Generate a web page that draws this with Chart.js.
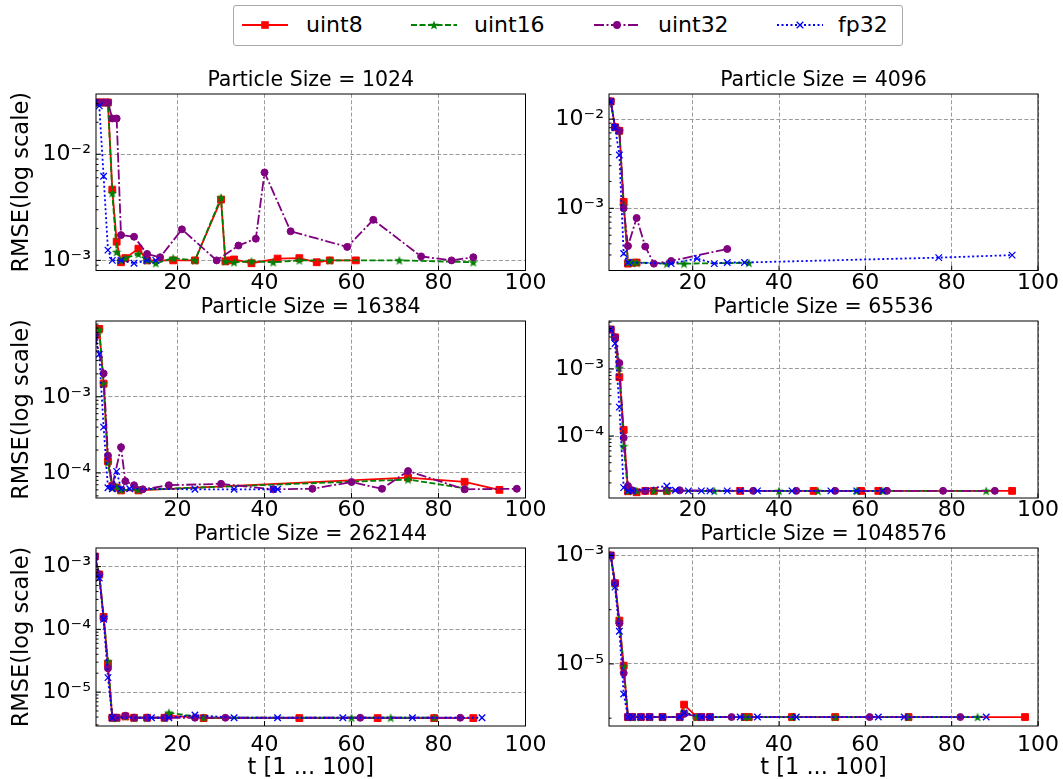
<!DOCTYPE html>
<html><head><meta charset="utf-8">
<script src="https://cdn.jsdelivr.net/npm/chart.js@4.4.1/dist/chart.umd.min.js"></script>
<style>
html,body{margin:0;padding:0;width:1063px;height:779px;overflow:hidden;background:#fff;font-family:"DejaVu Sans",sans-serif;}
canvas.panel{position:absolute;}
#legend{position:absolute;left:233px;top:5px;width:670px;height:41px;box-sizing:border-box;border:1px solid #a8a8a8;border-radius:3px;background:#fff;}
.lg{position:absolute;top:0;height:39px;}
.lg svg{position:absolute;top:9px;}
.lg span{position:absolute;top:6px;font-size:22px;line-height:26px;color:#000;white-space:nowrap;}
</style></head>
<body>
<div id="legend"></div>
<canvas id="c0" class="panel"></canvas><canvas id="c1" class="panel"></canvas>
<canvas id="c2" class="panel"></canvas><canvas id="c3" class="panel"></canvas>
<canvas id="c4" class="panel"></canvas><canvas id="c5" class="panel"></canvas>
<script>
// ---------------- data ----------------
const seriesNames = ['uint8', 'uint16', 'uint32', 'fp32'];
const particleSizes = [1024, 4096, 16384, 65536, 262144, 1048576];
const xTickValues = [20, 40, 60, 80, 100];

// Particle Size = 1024
const t1024_uint8  = [1,2,3,4,5,6,7,8,11,13,19,24,30,31,32,33,37,43,48,52,55,61];
const r1024_uint8  = [3.07e-2,3.07e-2,3.07e-2,3.07e-2,4.64e-3,1.50e-3,9.6e-4,1.05e-3,1.29e-3,1.0e-3,1.0e-3,1.0e-3,3.74e-3,9.8e-4,1.0e-3,1.02e-3,9.4e-4,1.04e-3,1.05e-3,9.6e-4,1.0e-3,1.0e-3];
const t1024_uint16 = [1,2,3,4,5,6,7,8,11,13,15,19,24,30,31,33,37,42,48,55,71,88];
const r1024_uint16 = [3.07e-2,3.07e-2,3.07e-2,3.07e-2,4.3e-3,1.2e-3,1.0e-3,1.05e-3,1.15e-3,1.0e-3,9.4e-4,1.05e-3,1.0e-3,3.9e-3,9.8e-4,9.6e-4,9.8e-4,9.6e-4,1.0e-3,1.0e-3,1.0e-3,9.6e-4];
const t1024_uint32 = [1,2,3,4,5,6,7,10,13,16,21,29,34,38,40,46,59,65,76,83,88];
const r1024_uint32 = [3.07e-2,3.07e-2,3.07e-2,3.07e-2,2.17e-2,2.17e-2,1.73e-3,1.67e-3,1.15e-3,1.07e-3,1.96e-3,1.0e-3,1.38e-3,1.6e-3,6.73e-3,1.88e-3,1.34e-3,2.41e-3,1.09e-3,1.0e-3,1.07e-3];
const t1024_fp32   = [1,2,3,4,5,7,10,13,15];
const r1024_fp32   = [3.07e-2,2.85e-2,6.2e-3,1.25e-3,1.0e-3,1.0e-3,9.4e-4,1.0e-3,1.0e-3];

// Particle Size = 4096
const t4096_uint8  = [1,2,3,4,5,6,7];
const r4096_uint8  = [1.58e-2,8.1e-3,7.4e-3,1.18e-3,2.4e-4,2.45e-4,2.47e-4];
const t4096_uint16 = [1,2,3,4,5,6,7,14,18,33];
const r4096_uint16 = [1.58e-2,8.1e-3,7.4e-3,1.06e-3,2.47e-4,2.47e-4,2.47e-4,2.4e-4,2.4e-4,2.45e-4];
const t4096_uint32 = [1,2,3,4,5,7,9,11,15,28];
const r4096_uint32 = [1.58e-2,8.1e-3,7.4e-3,1.0e-3,3.78e-4,7.8e-4,3.73e-4,2.4e-4,2.57e-4,3.5e-4];
const t4096_fp32   = [1,2,3,4,5,15,21,25,28,32,77,94];
const r4096_fp32   = [1.58e-2,8.1e-3,3.95e-3,3.12e-4,2.47e-4,2.4e-4,2.74e-4,2.4e-4,2.47e-4,2.47e-4,2.8e-4,2.99e-4];

// Particle Size = 16384
const t16384_uint8  = [1,2,3,4,5,6,7,11,73,86,94];
const r16384_uint8  = [6.4e-3,7.8e-3,1.49e-3,1.42e-4,6.7e-5,6.4e-5,5.9e-5,5.9e-5,8.7e-5,7.66e-5,6.0e-5];
const t16384_uint16 = [1,2,3,4,5,6,7,11,73,86];
const r16384_uint16 = [6.4e-3,7.6e-3,1.49e-3,1.37e-4,6.4e-5,6.6e-5,6.0e-5,6.0e-5,8.2e-5,6.3e-5];
const t16384_uint32 = [1,3,4,5,7,8,10,12,18,30,42,51,60,67,73,86,98];
const r16384_uint32 = [6.5e-3,2.03e-3,1.69e-4,6.8e-5,2.18e-4,7.8e-5,6.9e-5,6.1e-5,6.9e-5,7.2e-5,6.1e-5,6.2e-5,7.6e-5,6.2e-5,1.06e-4,6.1e-5,6.2e-5];
const t16384_fp32   = [1,2,3,4,5,6,7,9,24,33,42,43];
const r16384_fp32   = [6.05e-3,3.63e-3,4.0e-4,6.4e-5,6.2e-5,1.05e-4,6.2e-5,6.2e-5,6.1e-5,6.1e-5,6.1e-5,6.1e-5];

// Particle Size = 65536
const t65536_uint8  = [1,2,3,4,5,7,9,11,14,31,48,59,63,94];
const r65536_uint8  = [3.88e-3,2.97e-3,7.55e-4,1.23e-4,1.5e-5,1.45e-5,1.52e-5,1.52e-5,1.52e-5,1.52e-5,1.52e-5,1.52e-5,1.52e-5,1.52e-5];
const t65536_uint16 = [1,2,3,4,5,7,11,14,25,40,49,58,64,88];
const r65536_uint16 = [3.88e-3,2.97e-3,1.04e-3,7.05e-5,1.52e-5,1.52e-5,1.52e-5,1.52e-5,1.52e-5,1.52e-5,1.52e-5,1.52e-5,1.52e-5,1.52e-5];
const t65536_uint32 = [1,2,3,4,5,6,9,17,34,44,53,65,78,90];
const r65536_uint32 = [3.88e-3,2.97e-3,1.23e-3,9.4e-5,1.8e-5,1.55e-5,1.52e-5,1.55e-5,1.52e-5,1.52e-5,1.52e-5,1.52e-5,1.52e-5,1.52e-5];
const t65536_fp32   = [1,2,3,4,5,6,14,16,19,22,24,28,31,35,43,52,58,64];
const r65536_fp32   = [3.88e-3,2.4e-3,2.7e-4,1.7e-5,1.52e-5,1.52e-5,1.8e-5,1.55e-5,1.52e-5,1.52e-5,1.52e-5,1.52e-5,1.52e-5,1.52e-5,1.52e-5,1.52e-5,1.52e-5,1.52e-5];

// Particle Size = 262144
const t262144_uint8  = [1,2,3,4,5,6,8,10,13,17,18,26,48,66,79,88];
const r262144_uint8  = [1.45e-3,7.5e-4,1.58e-4,2.84e-5,3.9e-6,3.9e-6,4.1e-6,3.9e-6,3.9e-6,3.9e-6,4.2e-6,3.85e-6,3.85e-6,3.85e-6,3.85e-6,3.85e-6];
const t262144_uint16 = [1,2,3,4,5,6,8,10,13,17,18,26,60,69,79];
const r262144_uint16 = [1.45e-3,7.5e-4,1.58e-4,3.1e-5,3.9e-6,3.9e-6,4.1e-6,3.9e-6,3.9e-6,3.9e-6,4.7e-6,3.9e-6,3.9e-6,3.9e-6,3.9e-6];
const t262144_uint32 = [1,2,3,4,5,6,8,10,13,17,24,31,62,85];
const r262144_uint32 = [1.45e-3,7.5e-4,1.5e-4,2.39e-5,3.9e-6,3.9e-6,4.2e-6,3.9e-6,3.9e-6,3.9e-6,3.9e-6,3.9e-6,3.9e-6,3.9e-6];
const t262144_fp32   = [1,2,3,4,5,14,18,24,33,43,58,74,90];
const r262144_fp32   = [1.45e-3,6.6e-4,1.45e-4,1.7e-5,3.9e-6,3.9e-6,3.9e-6,4.3e-6,3.9e-6,3.9e-6,3.9e-6,3.9e-6,3.9e-6];

// Particle Size = 1048576
const t1048576_uint8  = [1,2,3,4,5,6,8,10,13,17,18,21,22,24,32,33,43,53,70,97];
const r1048576_uint8  = [1.0e-3,3.08e-4,6.3e-5,9.3e-6,1.05e-6,1.05e-6,1.05e-6,1.05e-6,1.05e-6,1.05e-6,1.78e-6,1.05e-6,1.05e-6,1.05e-6,1.05e-6,1.05e-6,1.05e-6,1.05e-6,1.05e-6,1.05e-6];
const t1048576_uint16 = [1,2,3,4,5,6,8,10,13,17,18,21,22,24,32,33,43,53,70,86];
const r1048576_uint16 = [1.0e-3,3.0e-4,6.0e-5,9.0e-6,1.05e-6,1.05e-6,1.05e-6,1.05e-6,1.05e-6,1.05e-6,1.3e-6,1.05e-6,1.05e-6,1.05e-6,1.05e-6,1.05e-6,1.05e-6,1.05e-6,1.05e-6,1.05e-6];
const t1048576_uint32 = [1,2,3,4,5,6,8,10,13,17,18,22,24,29,61,82];
const r1048576_uint32 = [1.0e-3,3.08e-4,5.6e-5,6.8e-6,1.05e-6,1.05e-6,1.05e-6,1.05e-6,1.05e-6,1.05e-6,1.2e-6,1.05e-6,1.05e-6,1.05e-6,1.05e-6,1.05e-6];
const t1048576_fp32   = [1,2,3,4,5,6,8,10,13,17,18,22,24,31,35,44,63,69,88];
const r1048576_fp32   = [1.0e-3,2.6e-4,4.0e-5,2.8e-6,1.05e-6,1.05e-6,1.05e-6,1.05e-6,1.05e-6,1.05e-6,1.25e-6,1.05e-6,1.05e-6,1.05e-6,1.05e-6,1.05e-6,1.05e-6,1.05e-6,1.05e-6];

// axis limits
const yMinValues = [8.03e-4, 2.01e-4, 4.69e-5, 1.19e-5, 2.88e-6, 7.18e-7];
const yMaxValues = [3.69e-2, 1.91e-2, 9.9e-3, 5.2e-3, 1.98e-3, 1.37e-3];
const yDecadeStride = [1, 1, 1, 1, 1, 2];
const xMinValues = [1.25, 0.6, 1.25, 0.6, 1.25, 0.6];
const xMaxValue = 100;

const panelSeries = [
  [[t1024_uint8, r1024_uint8], [t1024_uint16, r1024_uint16], [t1024_uint32, r1024_uint32], [t1024_fp32, r1024_fp32]],
  [[t4096_uint8, r4096_uint8], [t4096_uint16, r4096_uint16], [t4096_uint32, r4096_uint32], [t4096_fp32, r4096_fp32]],
  [[t16384_uint8, r16384_uint8], [t16384_uint16, r16384_uint16], [t16384_uint32, r16384_uint32], [t16384_fp32, r16384_fp32]],
  [[t65536_uint8, r65536_uint8], [t65536_uint16, r65536_uint16], [t65536_uint32, r65536_uint32], [t65536_fp32, r65536_fp32]],
  [[t262144_uint8, r262144_uint8], [t262144_uint16, r262144_uint16], [t262144_uint32, r262144_uint32], [t262144_fp32, r262144_fp32]],
  [[t1048576_uint8, r1048576_uint8], [t1048576_uint16, r1048576_uint16], [t1048576_uint32, r1048576_uint32], [t1048576_fp32, r1048576_fp32]]
];

// ---------------- styles ----------------
Chart.defaults.font.family = "'DejaVu Sans', sans-serif";
Chart.defaults.color = '#000';

function makeStar(color, size) {
  const c = document.createElement('canvas');
  c.width = size; c.height = size;
  const g = c.getContext('2d');
  g.fillStyle = color; g.beginPath();
  const cx = size / 2, cy = size / 2 + 0.4, R = size / 2, r = R * 0.42;
  for (let i = 0; i < 10; i++) {
    const a = -Math.PI / 2 + i * Math.PI / 5;
    const rr = i % 2 ? r : R;
    g.lineTo(cx + rr * Math.cos(a), cy + rr * Math.sin(a));
  }
  g.closePath(); g.fill();
  return c;
}
const starImg = makeStar('#008000', 10);

const seriesStyle = [
  {color: '#ff0000', dash: [], point: 'rect', radius: 4.8, bw: 1, order: 3},
  {color: '#008000', dash: [6, 2.5], point: starImg, radius: 5, bw: 0, order: 2},
  {color: '#800080', dash: [10, 2.5, 2, 2.5], point: 'circle', radius: 3.5, bw: 1, order: 1},
  {color: '#0000ff', dash: [2, 2.5], point: 'crossRot', radius: 4.6, bw: 1.3, order: 0}
];

const SUP = {'-': '\u207B', '0': '\u2070', '1': '\u00B9', '2': '\u00B2', '3': '\u00B3', '4': '\u2074', '5': '\u2075', '6': '\u2076', '7': '\u2077', '8': '\u2078', '9': '\u2079'};
function decadeLabel(v) {
  const e = Math.round(Math.log10(v));
  return '10' + String(e).split('').map(ch => SUP[ch]).join('');
}

// geometry of each panel canvas
const colLeft = [0, 513], colWidth = [556, 550], colPadRight = [30.5, 25];
const rowTop = [68, 295, 522], rowHeight = [233, 233, 257], rowXAxisH = [30.5, 30, 53];
const rowTickPad = [-0.5, -0.5, 6.5];
const Y_AXIS_W = 96;

const framePlugin = {
  id: 'frame',
  afterDatasetsDraw(chart, args, opts) {
    const {ctx, chartArea: a, scales: {x, y}} = chart;
    ctx.save();
    ctx.strokeStyle = '#000';
    ctx.lineWidth = 1;
    ctx.beginPath();
    const lo = Math.floor(Math.log10(y.min)), hi = Math.ceil(Math.log10(y.max));
    for (let d = lo; d <= hi; d++) {
      const subs = opts.stride === 1 ? [1,2,3,4,5,6,7,8,9] : [1];
      subs.forEach(m => {
        const v = m * Math.pow(10, d);
        if (v < y.min || v > y.max) return;
        const py = y.getPixelForValue(v);
        const major = (m === 1) && ((d - opts.base) % opts.stride === 0);
        ctx.moveTo(a.left, py);
        ctx.lineTo(a.left + (major ? 5 : 2.5), py);
      });
    }
    xTickValues.forEach(v => {
      const px = x.getPixelForValue(v);
      ctx.moveTo(px, a.bottom);
      ctx.lineTo(px, a.bottom - 5);
    });
    ctx.stroke();
    ctx.strokeRect(a.left, a.top, a.right - a.left, a.bottom - a.top);
    ctx.restore();
  }
};

function buildPanel(i) {
  const col = i % 2, row = Math.floor(i / 2);
  const cv = document.getElementById('c' + i);
  cv.width = colWidth[col]; cv.height = rowHeight[row];
  cv.style.left = colLeft[col] + 'px'; cv.style.top = rowTop[row] + 'px';
  cv.style.width = colWidth[col] + 'px'; cv.style.height = rowHeight[row] + 'px';

  const datasets = panelSeries[i].map(([ts, rs], k) => {
    const s = seriesStyle[k];
    return {
      label: seriesNames[k],
      data: ts.map((t, j) => ({x: t, y: rs[j]})),
      borderColor: s.color, backgroundColor: s.color,
      borderWidth: 1.8, borderDash: s.dash, tension: 0, fill: false,
      pointStyle: s.point, pointRadius: s.radius, pointBorderWidth: s.bw,
      pointBackgroundColor: s.color, pointBorderColor: s.color,
      pointHoverRadius: s.radius, order: s.order
    };
  });

  const stride = yDecadeStride[i];
  const yMin = yMinValues[i], yMax = yMaxValues[i];
  const topDec = Math.floor(Math.log10(yMax));
  const xAxisH = rowXAxisH[row];

  new Chart(cv, {
    type: 'line',
    data: {datasets},
    plugins: [framePlugin],
    options: {
      responsive: false, animation: false, devicePixelRatio: 1,
      layout: {padding: {left: 0, top: 0, right: colPadRight[col], bottom: 0}},
      plugins: {
        legend: {display: false}, tooltip: {enabled: false},
        title: {display: true, fullSize: false, text: 'Particle Size = ' + particleSizes[i],
                font: {size: 20.5, weight: 'normal', lineHeight: 1.2}, padding: {top: 0, bottom: 1.4}, color: '#000'},
        frame: {stride: stride, base: topDec}
      },
      scales: {
        x: {
          type: 'linear', min: xMinValues[i], max: xMaxValue,
          afterBuildTicks: s => { s.ticks = xTickValues.map(v => ({value: v})); },
          afterFit: s => { s.height = xAxisH; s.paddingLeft = 0; s.paddingRight = 0; },
          ticks: {font: {size: 22}, padding: rowTickPad[row], maxRotation: 0, autoSkip: false, color: '#000',
                  callback: v => String(v)},
          grid: {color: '#9a9a9a', lineWidth: 1, drawTicks: false},
          border: {display: false, dash: [4, 2.2]},
          title: {display: row === 2, text: 't [1 ... 100]', font: {size: 22.5, lineHeight: 1.0},
                  padding: {top: 0, bottom: 0}, color: '#000'}
        },
        y: {
          type: 'logarithmic', min: yMin, max: yMax,
          afterBuildTicks: s => {
            const t = [];
            for (let d = topDec; Math.pow(10, d) >= yMin; d -= stride) t.unshift({value: Math.pow(10, d)});
            s.ticks = t;
          },
          afterFit: s => { s.width = Y_AXIS_W; s.paddingTop = 0; s.paddingBottom = 0; },
          ticks: {font: {size: 22}, padding: 5, autoSkip: false, color: '#000', callback: v => decadeLabel(v)},
          grid: {color: '#9a9a9a', lineWidth: 1, drawTicks: false},
          border: {display: false, dash: [4, 2.2]},
          title: {display: col === 0, text: 'RMSE(log scale)', font: {size: 22.5, lineHeight: 1.2},
                  padding: {top: 9, bottom: 0}, color: '#000'}
        }
      }
    }
  });
}
for (let i = 0; i < 6; i++) buildPanel(i);

// ---------------- legend (HTML) ----------------
const legendLineX = [8, 177, 360, 543];   // relative to legend box
const legendTextX = [72, 240, 424, 604];
const legendEl = document.getElementById('legend');
seriesNames.forEach((name, k) => {
  const s = seriesStyle[k];
  const item = document.createElement('div');
  item.className = 'lg';
  const w = 46;
  let marker = '';
  const cx = w / 2, cy = 10;
  if (k === 0) marker = `<rect x="${cx-3.8}" y="${cy-3.8}" width="7.6" height="7.6" fill="${s.color}"/>`;
  if (k === 1) {
    let pts = [];
    for (let j = 0; j < 10; j++) { const a = -Math.PI/2 + j*Math.PI/5; const rr = j % 2 ? 2.1 : 5; pts.push((cx + rr*Math.cos(a)).toFixed(2) + ',' + (cy + 0.4 + rr*Math.sin(a)).toFixed(2)); }
    marker = `<polygon points="${pts.join(' ')}" fill="${s.color}"/>`;
  }
  if (k === 2) marker = `<circle cx="${cx}" cy="${cy}" r="3.9" fill="${s.color}"/>`;
  if (k === 3) marker = `<path d="M${cx-3.3},${cy-3.3}L${cx+3.3},${cy+3.3}M${cx+3.3},${cy-3.3}L${cx-3.3},${cy+3.3}" stroke="${s.color}" stroke-width="1.3"/>`;
  item.innerHTML = `<svg width="${w}" height="20" style="left:${legendLineX[k]}px"><line x1="0" y1="${cy}" x2="${w}" y2="${cy}" stroke="${s.color}" stroke-width="1.8" stroke-dasharray="${s.dash.join(' ') || 'none'}"/>${marker}</svg><span style="left:${legendTextX[k]}px">${name}</span>`;
  legendEl.appendChild(item);
});
</script>
</body></html>
